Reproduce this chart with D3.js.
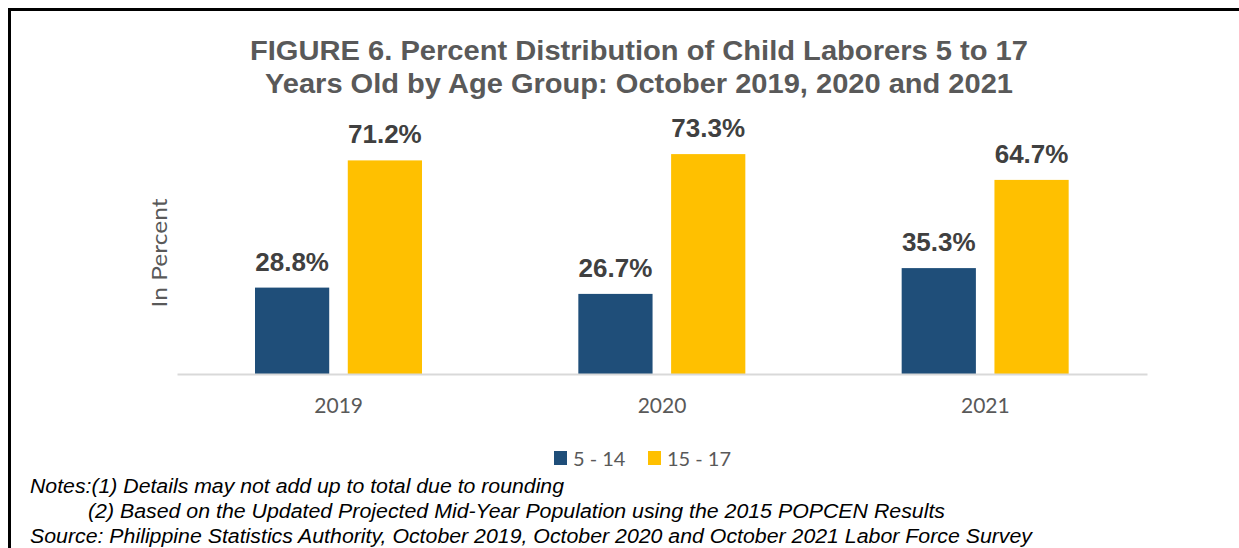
<!DOCTYPE html>
<html>
<head>
<meta charset="utf-8">
<script src="https://cdn.jsdelivr.net/npm/d3@7"></script>
<style>
  body { margin: 0; background: #fff; }
  svg { display: block; }
</style>
</head>
<body>
<div id="chart"></div>
<script>
var years = ["2019", "2020", "2021"];
var groups = ["5 - 14", "15 - 17"];
var age5to14 = [28.8, 26.7, 35.3];
var age15to17 = [71.2, 73.3, 64.7];
var colors = ["#1f4e79", "#ffc000"];
var titleLines = [
    "FIGURE 6. Percent Distribution of Child Laborers 5 to 17",
    "Years Old by Age Group: October 2019, 2020 and 2021"
];
var notes = [
    "Notes:(1) Details may not add up to total due to rounding",
    "(2) Based on the Updated Projected Mid-Year Population using the 2015 POPCEN Results",
    "Source: Philippine Statistics Authority, October 2019, October 2020 and October 2021 Labor Force Survey"
];

var w = 1239, h = 548;
var svg = d3.select("#chart").append("svg")
    .attr("width", w)
    .attr("height", h);

// frame: top and left edges only
svg.append("path")
    .attr("d", "M9.5," + h + "V9.5H" + w)
    .attr("fill", "none")
    .attr("stroke", "#000")
    .attr("stroke-width", 3);

// the source picture is a bit wider than the fonts, so lengths are pinned
var titleLen = [778, 748];
svg.append("g").selectAll("text")
    .data(titleLines)
    .join("text")
    .attr("x", 639)
    .attr("y", function (d, i) { return 60 + i * 33; })
    .attr("text-anchor", "middle")
    .attr("font-family", "Liberation Sans, Arial, sans-serif")
    .attr("font-weight", "bold")
    .attr("font-size", 27)
    .attr("textLength", function (d, i) { return titleLen[i]; })
    .attr("lengthAdjust", "spacingAndGlyphs")
    .attr("fill", "#595959")
    .text(function (d) { return d; });

var x0 = d3.scaleBand().domain(years).range([177, 1147]);
var x1 = d3.scaleBand().domain(groups).range([78, 245]).paddingInner(0.2);
var y = d3.scaleLinear().domain([0, 80]).range([374, 134]);

var data = years.map(function (yr, i) {
    return { year: yr, values: [age5to14[i], age15to17[i]] };
});

var cat = svg.append("g").selectAll("g")
    .data(data)
    .join("g")
    .attr("transform", function (d) { return "translate(" + x0(d.year) + ",0)"; });

cat.selectAll("rect")
    .data(function (d) { return d.values.map(function (v, j) { return { g: groups[j], v: v, j: j }; }); })
    .join("rect")
    .attr("x", function (d) { return x1(d.g); })
    .attr("width", x1.bandwidth())
    .attr("y", function (d) { return y(d.v); })
    .attr("height", function (d) { return y(0) - y(d.v); })
    .attr("fill", function (d) { return colors[d.j]; });

cat.selectAll("text")
    .data(function (d) { return d.values.map(function (v, j) { return { g: groups[j], v: v }; }); })
    .join("text")
    .attr("x", function (d) { return x1(d.g) + x1.bandwidth() / 2; })
    .attr("y", function (d) { return y(d.v) - 17; })
    .attr("text-anchor", "middle")
    .attr("font-family", "Liberation Sans, Arial, sans-serif")
    .attr("font-weight", "bold")
    .attr("font-size", 26)
    .attr("fill", "#404040")
    .text(function (d) { return d.v.toFixed(1) + "%"; });

// x axis
var xAxis = svg.append("g")
    .attr("transform", "translate(0," + y(0) + ")")
    .call(d3.axisBottom(x0).tickSize(0).tickPadding(24));
xAxis.select(".domain").attr("stroke", "#d9d9d9").attr("stroke-width", 2);
xAxis.selectAll("text")
    .attr("font-family", "Lato, Open Sans, sans-serif")
    .attr("font-size", 21)
    .attr("fill", "#595959");

svg.append("text")
    .attr("transform", "translate(167,253) rotate(-90)")
    .attr("text-anchor", "middle")
    .attr("font-family", "Lato, Open Sans, sans-serif")
    .attr("font-size", 22)
    .attr("textLength", 109)
    .attr("lengthAdjust", "spacingAndGlyphs")
    .attr("fill", "#595959")
    .text("In Percent");

// legend
var legendX = [554, 648];
var lg = svg.append("g").selectAll("g")
    .data(groups)
    .join("g")
    .attr("transform", function (d, i) { return "translate(" + legendX[i] + ",451)"; });
lg.append("rect")
    .attr("width", 13)
    .attr("height", 14)
    .attr("fill", function (d, i) { return colors[i]; });
lg.append("text")
    .attr("x", 19)
    .attr("y", 14.5)
    .attr("font-family", "Lato, Open Sans, sans-serif")
    .attr("font-size", 20)
    .attr("fill", "#595959")
    .text(function (d) { return d; });

// notes
var noteX = [30, 88, 30];
var noteLen = [534, 857, 1002];
svg.append("g").selectAll("text")
    .data(notes)
    .join("text")
    .attr("x", function (d, i) { return noteX[i]; })
    .attr("y", function (d, i) { return 493 + i * 25; })
    .attr("font-family", "Liberation Sans, Arial, sans-serif")
    .attr("font-style", "italic")
    .attr("font-size", 19.5)
    .attr("textLength", function (d, i) { return noteLen[i]; })
    .attr("lengthAdjust", "spacingAndGlyphs")
    .attr("fill", "#000")
    .text(function (d) { return d; });
</script>
</body>
</html>
